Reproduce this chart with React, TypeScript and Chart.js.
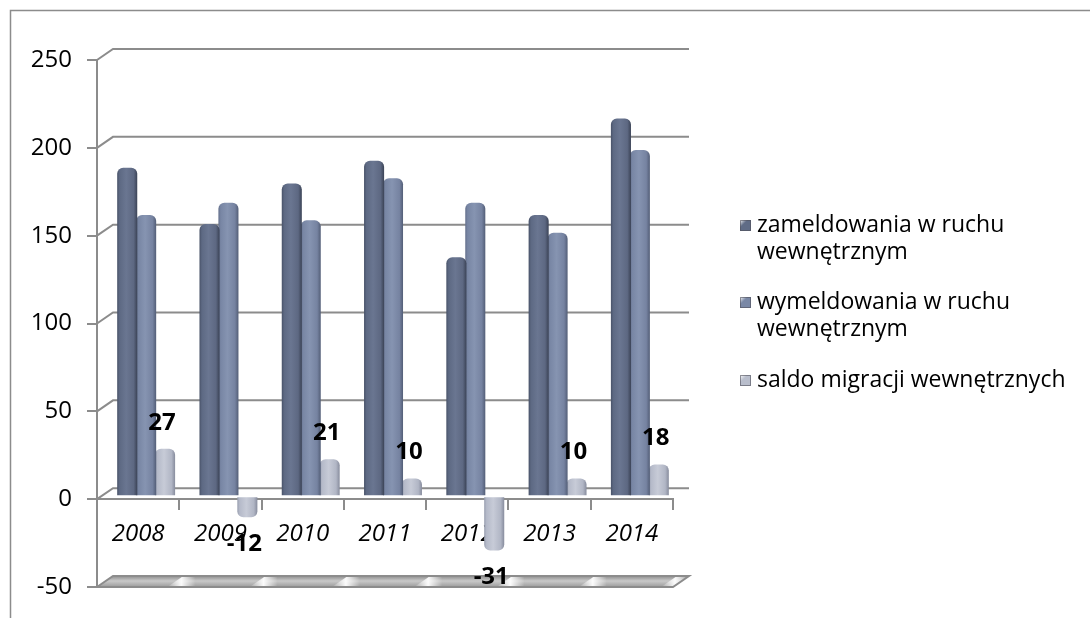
import React, { useEffect, useRef } from 'react';
import { Chart, registerables } from 'chart.js';

Chart.register(...registerables);

const categories = ['2008', '2009', '2010', '2011', '2012', '2013', '2014'];
const zameldowania = [187, 155, 178, 191, 136, 160, 215];
const wymeldowania = [160, 167, 157, 181, 167, 150, 197];
const saldo = [27, -12, 21, 10, -31, 10, 18];
const seriesNames = [
  'zameldowania w ruchu wewnętrznym',
  'wymeldowania w ruchu wewnętrznym',
  'saldo migracji wewnętrznych',
];
const legendLines = [
  ['zameldowania w ruchu', 'wewnętrznym'],
  ['wymeldowania w ruchu', 'wewnętrznym'],
  ['saldo migracji wewnętrznych'],
];
const yTicks = [-50, 0, 50, 100, 150, 200, 250];

const FONT = '"Open Sans", "Noto Sans", sans-serif';
const AXIS_COLOR = '#8c8c8c';
const DX = 16;
const DY = 11;
const BAR_SHIFT_X = 8;
const BAR_SHIFT_Y = -3;

const barStops: [number, string][][] = [
  [[0, '#485268'], [0.12, '#5d6983'], [0.45, '#6a7691'], [0.82, '#5d6882'], [1, '#3b4356']],
  [[0, '#64708c'], [0.12, '#7886a4'], [0.45, '#8694b1'], [0.82, '#7683a1'], [1, '#535e77']],
  [[0, '#989eaf'], [0.12, '#b5bac9'], [0.45, '#c7cbd7'], [0.82, '#b1b6c5'], [1, '#878c9d']],
];
const legendColors = ['#606c86', '#7a88a6', '#b9becc'];

const decorPlugin = {
  id: 'decor3d',
  beforeDraw(chart: any) {
    const ctx = chart.ctx;
    ctx.save();
    ctx.fillStyle = '#ffffff';
    ctx.fillRect(0, 0, chart.width, chart.height);
    ctx.strokeStyle = AXIS_COLOR;
    ctx.lineWidth = 1.5;
    ctx.beginPath();
    ctx.moveTo(10.5, chart.height);
    ctx.lineTo(10.5, 10.5);
    ctx.lineTo(chart.width, 10.5);
    ctx.stroke();
    ctx.restore();
  },
  beforeDatasetsDraw(chart: any) {
    const { ctx, chartArea: a, scales } = chart;
    const ys = scales.y;
    const xs = scales.x;
    ctx.save();
    ctx.strokeStyle = AXIS_COLOR;
    ctx.lineWidth = 2;
    yTicks.forEach((v, i) => {
      if (i === 0) return;
      const py = ys.getPixelForValue(v);
      ctx.beginPath();
      ctx.moveTo(a.left, py);
      ctx.lineTo(a.left + DX, py - DY);
      ctx.lineTo(a.right + DX, py - DY);
      ctx.stroke();
    });
    // floor slab at the minimum value
    const pf = ys.getPixelForValue(yTicks[0]);
    ctx.beginPath();
    ctx.moveTo(a.left, pf);
    ctx.lineTo(a.left + DX, pf - DY);
    ctx.lineTo(a.right + DX, pf - DY);
    ctx.lineTo(a.right, pf);
    ctx.closePath();
    const g = ctx.createLinearGradient(0, pf - DY, 0, pf);
    g.addColorStop(0, '#8e8e8e');
    g.addColorStop(0.45, '#c9c9c9');
    g.addColorStop(1, '#9c9c9c');
    ctx.fillStyle = g;
    ctx.fill();
    ctx.save();
    ctx.clip();
    for (let i = 1; i <= categories.length; i++) {
      const bx = xs.left + (xs.width * i) / categories.length + 2;
      const sg = ctx.createLinearGradient(bx - 14, 0, bx + 14, 0);
      sg.addColorStop(0, 'rgba(255,255,255,0)');
      sg.addColorStop(0.5, 'rgba(255,255,255,0.95)');
      sg.addColorStop(1, 'rgba(255,255,255,0)');
      ctx.fillStyle = sg;
      ctx.beginPath();
      ctx.moveTo(bx - 14, pf);
      ctx.lineTo(bx - 14 + DX, pf - DY);
      ctx.lineTo(bx + 14 + DX, pf - DY);
      ctx.lineTo(bx + 14, pf);
      ctx.closePath();
      ctx.fill();
    }
    ctx.restore();
    ctx.strokeStyle = AXIS_COLOR;
    ctx.lineWidth = 2;
    ctx.beginPath();
    ctx.moveTo(a.left, pf);
    ctx.lineTo(a.left + DX, pf - DY);
    ctx.lineTo(a.right + DX, pf - DY);
    ctx.lineTo(a.right, pf);
    ctx.closePath();
    ctx.stroke();
    ctx.restore();

    // shift bars to the middle depth of the 3D box
    ctx.save();
    ctx.translate(BAR_SHIFT_X, BAR_SHIFT_Y);
    chart.data.datasets.forEach((ds: any, di: number) => {
      const meta = chart.getDatasetMeta(di);
      meta.data.forEach((el: any) => {
        const { x, width } = el.getProps(['x', 'width'], true);
        const bg = ctx.createLinearGradient(x - width / 2, 0, x + width / 2, 0);
        barStops[di].forEach(([o, c]) => bg.addColorStop(o, c));
        el.options = { ...el.options, backgroundColor: bg };
      });
    });
  },
  afterDatasetsDraw(chart: any) {
    const ctx = chart.ctx;
    const meta = chart.getDatasetMeta(2);
    ctx.fillStyle = '#000000';
    ctx.font = `bold 24px ${FONT}`;
    ctx.textAlign = 'center';
    ctx.textBaseline = 'middle';
    meta.data.forEach((el: any, i: number) => {
      const { x, y } = el.getProps(['x', 'y'], true);
      const v = saldo[i];
      const ly = v >= 0 ? y - 26 : y + 27;
      ctx.fillText(String(v), x - 3, ly);
    });
    ctx.restore();
  },
  afterDraw(chart: any) {
    const ctx = chart.ctx;
    ctx.save();
    ctx.font = `23px ${FONT}`;
    ctx.textBaseline = 'middle';
    ctx.textAlign = 'left';
    const startYs = [225, 302, 380];
    legendLines.forEach((lines, i) => {
      const y0 = startYs[i];
      const bx = 740;
      const by = y0 - 5;
      const g = ctx.createLinearGradient(bx, by, bx + 11, by + 11);
      g.addColorStop(0, '#ffffff');
      g.addColorStop(0.35, legendColors[i]);
      g.addColorStop(1, legendColors[i]);
      ctx.fillStyle = g;
      ctx.fillRect(bx, by, 11, 11);
      ctx.strokeStyle = 'rgba(80,80,90,0.6)';
      ctx.lineWidth = 1;
      ctx.strokeRect(bx + 0.5, by + 0.5, 10, 10);
      ctx.fillStyle = '#000000';
      lines.forEach((t, j) => {
        ctx.fillText(t, 757, y0 + j * 27);
      });
    });
    ctx.restore();
  },
};

export default function App() {
  const canvasRef = useRef<HTMLCanvasElement | null>(null);

  useEffect(() => {
    document.body.style.margin = '0';
    const canvas = canvasRef.current;
    if (!canvas) return;
    const chart = new Chart(canvas, {
      type: 'bar',
      data: {
        labels: categories,
        datasets: [
          { label: seriesNames[0], data: zameldowania, backgroundColor: legendColors[0] },
          { label: seriesNames[1], data: wymeldowania, backgroundColor: legendColors[1] },
          { label: seriesNames[2], data: saldo, backgroundColor: legendColors[2] },
        ],
      },
      options: {
        animation: false,
        responsive: false,
        devicePixelRatio: 1,
        events: [],
        layout: { padding: { left: 0, top: 60, right: 417, bottom: 31 } },
        datasets: {
          bar: {
            categoryPercentage: 0.69,
            barPercentage: 1.06,
            borderRadius: 6,
            borderSkipped: 'start',
            borderWidth: 0,
          },
        },
        plugins: {
          legend: { display: false },
          tooltip: { enabled: false },
          title: { display: false },
        },
        scales: {
          x: {
            type: 'category',
            position: { y: 0 } as any,
            offset: true,
            grid: {
              offset: true,
              drawOnChartArea: false,
              drawTicks: true,
              tickLength: 10,
              color: AXIS_COLOR,
              lineWidth: 2,
            },
            border: { display: true, color: AXIS_COLOR, width: 2 },
            ticks: {
              color: '#000000',
              padding: 11,
              font: { family: FONT, size: 24, style: 'italic' },
              maxRotation: 0,
              autoSkip: false,
            },
          },
          y: {
            type: 'linear',
            min: -50,
            max: 250,
            afterFit: (s: any) => {
              s.width = 97;
            },
            afterBuildTicks: (s: any) => {
              s.ticks = yTicks.map((v) => ({ value: v }));
            },
            grid: {
              drawOnChartArea: false,
              drawTicks: true,
              tickLength: 10,
              color: AXIS_COLOR,
              lineWidth: 2,
            },
            border: { display: true, color: AXIS_COLOR, width: 2 },
            ticks: {
              color: '#000000',
              padding: 15,
              font: { family: FONT, size: 24 },
            },
          },
        },
      },
      plugins: [decorPlugin],
    });
    return () => chart.destroy();
  }, []);

  return (
    <div style={{ position: 'fixed', left: 0, top: 0, width: 1090, height: 618 }}>
      <canvas ref={canvasRef} width={1090} height={618} />
    </div>
  );
}
